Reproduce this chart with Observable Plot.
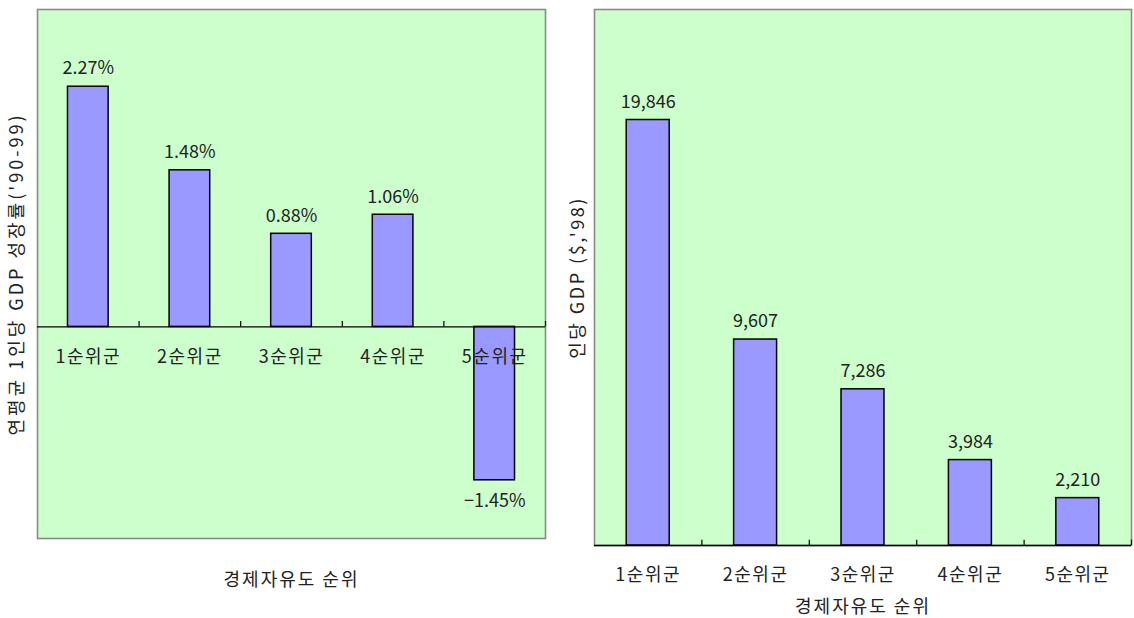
<!DOCTYPE html>
<html>
<head>
<meta charset="utf-8">
<script src="https://cdn.jsdelivr.net/npm/d3@7"></script>
<script src="https://cdn.jsdelivr.net/npm/@observablehq/plot@0.6"></script>
<style>
  html, body { margin: 0; padding: 0; background: #fff; }
  #wrap { position: relative; width: 1134px; height: 618px; }
  #left, #right { position: absolute; top: 0; }
  #left { left: 0; }
  #right { left: 560px; }
  svg { overflow: visible; }
</style>
</head>
<body>
<div id="wrap"><div id="left"></div><div id="right"></div></div>
<script>
const categories = ["1순위군", "2순위군", "3순위군", "4순위군", "5순위군"];
const growth = [2.27, 1.48, 0.88, 1.06, -1.45];
const growthLabels = ["2.27%", "1.48%", "0.88%", "1.06%", "−1.45%"];
const gdp = [19846, 9607, 7286, 3984, 2210];
const gdpLabels = ["19,846", "9,607", "7,286", "3,984", "2,210"];
const boundaries = [0.5, 1.5, 2.5, 3.5, 4.5];
const xTitle = "경제자유도 순위";
const leftYTitle = "연평균 1인당 GDP 성장률('90-99)";
const rightYTitle = "인당 GDP ($,'98)";

const FONT = "'Noto Sans CJK KR', 'Noto Sans', sans-serif";
const TXT = "#222";

const leftData = categories.map((c, i) => ({i, c, v: growth[i], label: growthLabels[i]}));
const rightData = categories.map((c, i) => ({i, c, v: gdp[i], label: gdpLabels[i]}));

const left = Plot.plot({
  width: 560, height: 618,
  marginLeft: 37, marginRight: 15, marginTop: 9, marginBottom: 80,
  style: {fontFamily: FONT, fontSize: "18px", color: TXT, background: "transparent"},
  x: {domain: [-0.5, 4.5], axis: null},
  y: {domain: [-2, 3], axis: null},
  marks: [
    Plot.frame({fill: "#ccffcc", stroke: "#8a8a8a", strokeWidth: 1.6}),
    Plot.rect(leftData, {x1: d => d.i - 0.2, x2: d => d.i + 0.2, y1: 0, y2: "v", fill: "#9999ff", stroke: "#000", strokeWidth: 1.5}),
    Plot.ruleY([0], {stroke: "#000", strokeWidth: 1.2}),
    Plot.ruleX(boundaries, {y1: 0, y2: 0.05, stroke: "#000", strokeWidth: 1.2}),
    Plot.text(leftData.filter(d => d.v >= 0), {x: "i", y: "v", text: "label", dy: -18, lineAnchor: "middle", fill: TXT, fontSize: 18}),
    Plot.text(leftData.filter(d => d.v < 0), {x: "i", y: "v", text: "label", dy: 21, lineAnchor: "middle", fill: TXT, fontSize: 18}),
    Plot.text(leftData, {x: "i", y: 0, text: "c", dy: 30, lineAnchor: "middle", fill: TXT, fontSize: 18, className: "cat"}),
    Plot.text([leftYTitle], {frameAnchor: "left", text: d => d, rotate: -90, dx: -20, textAnchor: "middle", lineAnchor: "middle", fill: TXT, fontSize: 18}),
    Plot.text([xTitle], {frameAnchor: "bottom", text: d => d, dy: 42, lineAnchor: "middle", fill: TXT, fontSize: 18})
  ]
});

const right = Plot.plot({
  width: 574, height: 618,
  marginLeft: 34, marginRight: 3, marginTop: 9, marginBottom: 73,
  style: {fontFamily: FONT, fontSize: "18px", color: TXT, background: "transparent"},
  x: {domain: [-0.5, 4.5], axis: null},
  y: {domain: [0, 25000], axis: null},
  marks: [
    Plot.frame({fill: "#ccffcc", stroke: "#8a8a8a", strokeWidth: 1.6}),
    Plot.rect(rightData, {x1: d => d.i - 0.2, x2: d => d.i + 0.2, y1: 0, y2: "v", fill: "#9999ff", stroke: "#000", strokeWidth: 1.5}),
    Plot.ruleY([0], {stroke: "#000", strokeWidth: 1.5}),
    Plot.ruleX(boundaries, {y1: 0, y2: 250, stroke: "#000", strokeWidth: 1.2}),
    Plot.text(rightData, {x: "i", y: "v", text: "label", dy: -18, lineAnchor: "middle", fill: TXT, fontSize: 18}),
    Plot.text(rightData, {x: "i", y: 0, text: "c", dy: 30, lineAnchor: "middle", fill: TXT, fontSize: 18}),
    Plot.text([rightYTitle], {frameAnchor: "left", text: d => d, rotate: -90, dx: -16, textAnchor: "middle", lineAnchor: "middle", fill: TXT, fontSize: 18}),
    Plot.text([xTitle], {frameAnchor: "bottom", text: d => d, dy: 62, lineAnchor: "middle", fill: TXT, fontSize: 18})
  ]
});

document.getElementById("left").appendChild(left);
document.getElementById("right").appendChild(right);

// letter spacing to match the wide glyph spacing of the original
for (const svg of [left, right]) {
  svg.querySelectorAll("text").forEach(t => {
    const s = t.textContent;
    if (s === leftYTitle) t.setAttribute("letter-spacing", "3");
    else if (s === rightYTitle) t.setAttribute("letter-spacing", "2.5");
    else if (s === xTitle) t.setAttribute("letter-spacing", "2");
    else if (categories.includes(s)) t.setAttribute("letter-spacing", "1.5");
  });
}
</script>
</body>
</html>
